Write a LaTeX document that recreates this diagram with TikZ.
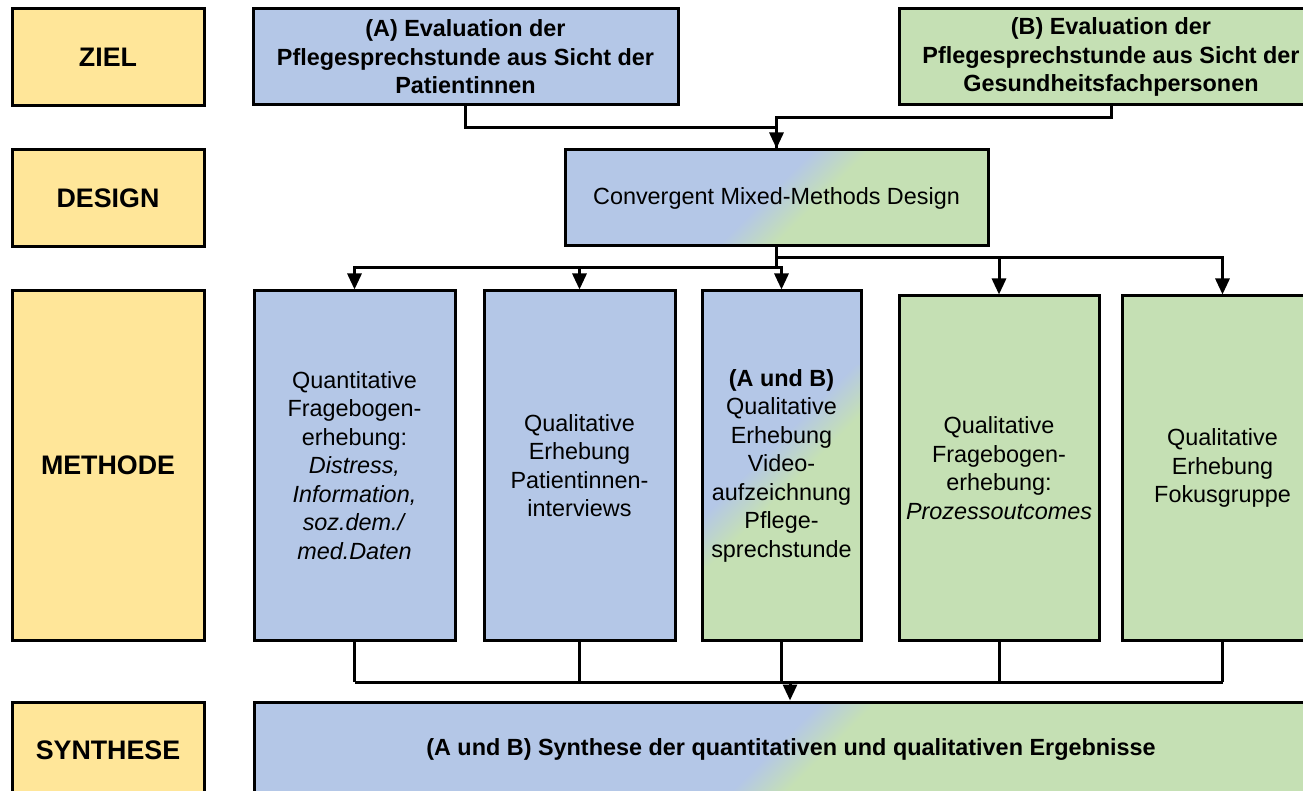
\documentclass[tikz,border=0pt]{standalone}
\usepackage{fontspec}
\setmainfont{Liberation Sans}
\usepackage{xcolor}
\usepackage{tikz}
\usetikzlibrary{positioning,shapes,arrows.meta,calc}
\definecolor{zielgelb}{HTML}{FFE699}
\definecolor{patblau}{HTML}{B4C7E7}
\definecolor{gfpgruen}{HTML}{C5E0B4}
\pgfdeclarehorizontalshading{blaugruen}{100bp}{color(0bp)=(patblau); color(45bp)=(patblau); color(55bp)=(gfpgruen); color(100bp)=(gfpgruen)}
\tikzset{
    gemischt/.style={
        rectangle,
        draw=black,
        line width=1.5pt,
        fill=gfpgruen,
        align=center,
        font=\fontsize{11.7}{14.25}\selectfont,
        path picture={
            \coordinate (uebergang) at ($(path picture bounding box.center)+(#1,0)$);
            \fill [patblau] (uebergang) ++(-2000,2000) -- ++(4000,-4000) -- ++(-4000,0) -- cycle;
            \shade [shading=blaugruen, shading angle=-45] (uebergang) ++(-100,-100) rectangle ++(200,200);
        }
    },
    gemischt/.default=0
}
\tikzstyle{ebene} = [rectangle, draw=black, line width=1.5pt, fill=zielgelb, minimum width=96pt, text centered, font=\fontsize{13.4}{16}\selectfont\bfseries]
\tikzstyle{patient} = [rectangle, draw=black, line width=1.5pt, fill=patblau, align=center, font=\fontsize{11.7}{14.25}\selectfont]
\tikzstyle{fachperson} = [rectangle, draw=black, line width=1.5pt, fill=gfpgruen, align=center, font=\fontsize{11.7}{14.25}\selectfont]
\tikzstyle{kopf} = [font=\fontsize{11.7}{14.25}\selectfont\bfseries]
\tikzstyle{linie} = [line width=1.5pt]
\tikzstyle{pfeil} = [line width=1.5pt, -{Triangle[width=7pt,length=8pt]}]

\begin{document}
\begin{tikzpicture}[x=0.5pt, y=-0.5pt]
          \useasboundingbox (0,0) rectangle (1303,791);
          % linke Spalte
          \node (lziel) [ebene, minimum height=48.5pt] at (108,57.5) {ZIEL};
          \node (ldesign) [ebene, minimum height=48.5pt] at (108,198.5) {DESIGN};
          \node (lmethode) [ebene, minimum height=174.5pt] at (108,465.5) {METHODE};
          \node (lsynthese) [ebene, minimum height=48pt] at (108,750) {SYNTHESE};
          % Ziele
          \node (zielA) [patient, kopf, minimum width=212.5pt, minimum height=48pt] at (465.5,57) {(A) Evaluation der\\Pflegesprechstunde aus Sicht der\\Patientinnen};
          \node (zielB) [fachperson, kopf, minimum width=212pt, minimum height=48pt] at (1111,57) {(B) Evaluation der\\Pflegesprechstunde aus Sicht der\\Gesundheitsfachpersonen};
          % Design
          \node (mmdesign) [gemischt=16.5, minimum width=211.5pt, minimum height=48pt] at (776.5,198) {Convergent Mixed-Methods Design};
          % Methoden
          \node (quant) [patient, minimum width=100.5pt, minimum height=174.5pt] at (354.5,465.5) {Quantitative\\Fragebogen-\\erhebung:\\\textit{Distress,}\\\textit{Information,}\\\textit{soz.dem./}\\\textit{med.Daten}};
          \node (interviews) [patient, minimum width=95.5pt, minimum height=174.5pt] at (579.5,465.5) {Qualitative\\Erhebung\\Patientinnen-\\interviews};
          \node (video) [gemischt=0, minimum width=79.5pt, minimum height=174.5pt] at (781.5,465.5) {\textbf{(A und B)}\\Qualitative\\Erhebung\\Video-\\aufzeichnung\\Pflege-\\sprechstunde};
          \node (fragebogen) [fachperson, minimum width=100pt, minimum height=172pt] at (999,468) {Qualitative\\Fragebogen-\\erhebung:\\\textit{Prozessoutcomes}};
          \node (fokus) [fachperson, minimum width=100.5pt, minimum height=172pt] at (1222.5,468) {Qualitative\\Erhebung\\Fokusgruppe};
          % Synthese
          \node (synthese) [gemischt=9, kopf, minimum width=537pt, minimum height=48pt] at (791,750) {(A und B) Synthese der quantitativen und qualitativen Ergebnisse};
          % Verbindungen
          \draw [linie] (zielA.south) -- ++(0,21) -| (mmdesign.north);
          \draw [pfeil] (zielB.south) -- ++(0,11) -| (mmdesign.north);
          \draw [linie] (mmdesign.south) -- ++(0,10) coordinate (teilung) -- ++(0,10) coordinate (teilung2);
          \draw [pfeil] (teilung) -| (fokus.north);
          \draw [pfeil] (teilung) -| (fragebogen.north);
          \draw [pfeil] (teilung2) -| (quant.north);
          \draw [pfeil] (teilung2) -| (interviews.north);
          \draw [pfeil] (teilung2) -| (video.north);
          \coordinate (sammel) at (790,682);
          \draw [linie] (quant.south) -- (quant.south |- sammel);
          \draw [linie] (interviews.south) -- (interviews.south |- sammel);
          \draw [linie] (video.south) -- (video.south |- sammel);
          \draw [linie] (fragebogen.south) -- (fragebogen.south |- sammel);
          \draw [linie] (fokus.south) -- (fokus.south |- sammel);
          \draw [linie] (quant.south |- sammel) -- (fokus.south |- sammel);
          \draw [pfeil] (sammel) -- (sammel |- synthese.north);
        \end{tikzpicture}
\end{document}
